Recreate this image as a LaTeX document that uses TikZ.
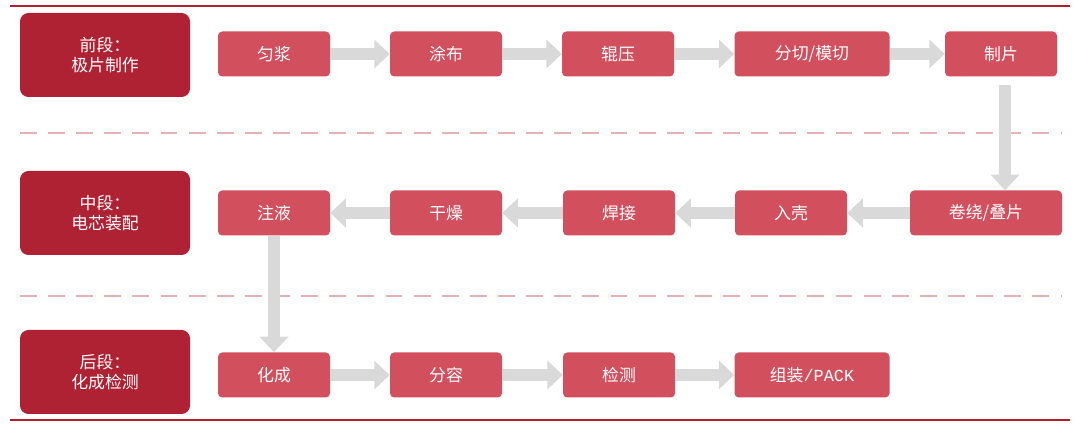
\documentclass[tikz,border=0pt]{standalone}
\usepackage{fontspec}
\newfontfamily\cjk{Noto Sans CJK SC}
\usetikzlibrary{arrows.meta, positioning}
\definecolor{stagered}{HTML}{AF2233}
\definecolor{stepred}{HTML}{D2505D}
\definecolor{flowgray}{HTML}{D9D9D9}
\definecolor{rulered}{HTML}{B0202E}
\begin{document}
\begin{tikzpicture}[x=0.025cm, y=-0.025cm]
		\tikzset{
			node distance=0.2in and 0.2in,
			stage/.style={rectangle, fill=stagered, text=white, align=center, font=\cjk\large,
			minimum width=170*0.025cm, minimum height=84*0.025cm, rounded corners=6pt},
			stepbox/.style={rectangle, fill=stepred, text=white, align=center, font=\cjk\large,
			minimum width=112*0.025cm, minimum height=45*0.025cm, rounded corners=3pt},
			flow/.style={draw=flowgray, line width=9pt, -{Triangle[width=20pt, length=11pt]}}
		}
		\useasboundingbox (0,0) rectangle (1080,425);
		\draw[rulered, line width=1.2pt] (10,6) -- (1070,6);
		\draw[rulered, line width=1.2pt] (10,420) -- (1070,420);
		\draw[rulered!35, line width=1.5pt, dash pattern=on 12pt off 8pt] (20,133) -- (1062,133);
		\draw[rulered!35, line width=1.5pt, dash pattern=on 12pt off 8pt] (20,296) -- (1062,296);

		\node[stage] (front) at (105,55) {前段：\\极片制作};
		\node[stage] (mid) at (105,213) {中段：\\电芯装配};
		\node[stage] (back) at (105,372) {后段：\\化成检测};

		\node[stepbox] (mix) at (274,54) {匀浆};
		\node[stepbox] (coat) at (446,54) {涂布};
		\node[stepbox] (roll) at (618,54) {辊压};
		\node[stepbox, minimum width=155*0.025cm] (cut) at (812,54) {分切/模切};
		\node[stepbox] (sheet) at (1001,54) {制片};

		\node[stepbox, minimum width=152*0.025cm] (wind) at (986,213) {卷绕/叠片};
		\node[stepbox] (case) at (791,213) {入壳};
		\node[stepbox] (weld) at (619,213) {焊接};
		\node[stepbox] (dry) at (446,213) {干燥};
		\node[stepbox] (fill) at (274,213) {注液};

		\node[stepbox] (form) at (274,375) {化成};
		\node[stepbox] (grade) at (446,375) {分容};
		\node[stepbox] (test) at (619,375) {检测};
		\node[stepbox, minimum width=155*0.025cm] (pack) at (812,375) {组装\fontspec{Liberation Mono}/PACK};

		\draw[flow] (mix) -- (coat);
		\draw[flow] (coat) -- (roll);
		\draw[flow] (roll) -- (cut);
		\draw[flow] (cut) -- (sheet);
		\draw[flow] (sheet.south) ++(4,8) coordinate (s1) (s1) -- (s1 |- wind.north);
		\draw[flow] (wind) -- (case);
		\draw[flow] (case) -- (weld);
		\draw[flow] (weld) -- (dry);
		\draw[flow] (dry) -- (fill);
		\draw[flow] (fill) -- (form);
		\draw[flow] (form) -- (grade);
		\draw[flow] (grade) -- (test);
		\draw[flow] (test) -- (pack);
	\end{tikzpicture}
\end{document}
